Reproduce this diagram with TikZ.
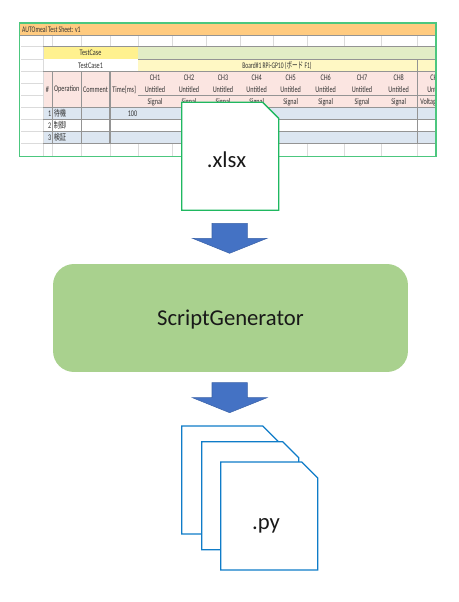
\documentclass[tikz,border=0pt]{standalone}
\usepackage{fontspec}
\setmainfont{Carlito}
\newfontfamily\cjkfont{Noto Sans CJK JP}
\usetikzlibrary{positioning}

\definecolor{sheetorange}{HTML}{FFCB80}
\definecolor{sheetyellow}{HTML}{FFF18F}
\definecolor{sheetpale}{HTML}{FFF8C4}
\definecolor{sheetgreen}{HTML}{E2EDC6}
\definecolor{sheetpink}{HTML}{FBE5E1}
\definecolor{sheetblue}{HTML}{DCE6F1}
\definecolor{sheetframe}{HTML}{4CC77F}
\definecolor{xlsxgreen}{HTML}{1FB860}
\definecolor{genfill}{HTML}{A9D18E}
\definecolor{pyblue}{HTML}{0F7CC8}
\definecolor{arrowfill}{HTML}{4472C4}
\definecolor{arrowedge}{HTML}{3A62A8}

\tikzset{
  gridlight/.style={draw=black!14, line width=0.5pt},
  griddark/.style={draw=black!42, line width=0.6pt},
  sheettext/.style={font=\fontsize{4.9}{5}\selectfont, text=black!80, inner sep=0pt, transform shape, xscale=0.72},
  filesheet/.style={draw, fill=white, line width=0.75pt, line join=miter},
  filelabel/.style={font=\fontsize{12.9}{15}\selectfont, text=black!90, inner sep=0pt, anchor=base},
  blockarrow/.style={fill=arrowfill, draw=arrowedge, line width=0.3pt},
  genbox/.style={fill=genfill, rounded corners=0.42cm, minimum width=7.1cm, minimum height=2.16cm, font=\fontsize{12.9}{15}\selectfont, text=black!90}
}

\newcommand{\filepath}[2]{(#1,#2) -- ++(81,0) -- ++(16,16) -- ++(0,92) -- ++(-97,0) -- cycle}

\begin{document}
\begin{tikzpicture}[x=0.02cm, y=-0.02cm]
    \useasboundingbox (0,0) rectangle (458,602);

    % --- Sheet bands ---
    \fill[sheetorange] (20,24) rectangle (436,35.7);
    \fill[sheetyellow] (43.3,46.7) rectangle (138.3,59.3);
    \fill[sheetgreen] (138.3,46.7) rectangle (436,59.3);
    \fill[sheetpale] (138.3,59.3) rectangle (436,71.7);
    \fill[sheetpink] (43.3,71.7) rectangle (436,107.7);
    \fill[sheetblue] (43.3,107.7) rectangle (436,119.3);
    \fill[sheetblue] (43.3,131.7) rectangle (436,143.3);

    % Light grid
    \foreach \x in {43.3,52.3,81.3,110,138.3,172.7,206.3,240,273.3,307.3,344.3,381.3,417.3} {
      \draw[gridlight] (\x,35.7) -- (\x,46.7);
      \draw[gridlight] (\x,143.3) -- (\x,156);
    }
    \foreach \y in {46.7,59.3,71.7,83.7,95.7,107.7,119.3,131.7,143.3} {
      \draw[gridlight] (21,\y) -- (43.3,\y);
    }
    \draw[gridlight] (43.3,46.7) -- (43.3,143.3);

    % Dark grid
    \draw[griddark] (20,35.7) -- (436,35.7);
    \foreach \y in {46.7,71.7,107.7,119.3,131.7,143.3} {
      \draw[griddark] (43.3,\y) -- (436,\y);
    }
    \draw[griddark] (138.3,59.3) -- (436,59.3);
    \draw[griddark] (138.3,95.7) -- (436,95.7);
    \foreach \x in {52.3,81.3,110} {
      \draw[griddark] (\x,71.7) -- (\x,143.3);
    }
    \draw[griddark] (417.3,59.3) -- (417.3,143.3);

    % --- Sheet texts ---
    \node[sheettext, anchor=west, xscale=0.92] (title) at (22,30) {AUTOmeal Test Sheet: v1};
    \node[sheettext] (testcase) at (90.5,53) {TestCase};
    \node[sheettext] (testcaseone) at (90.5,65.5) {TestCase1};
    \node[sheettext, xscale=0.9] (board) at (277,65.5) {Board\#1 RPi-GP10 ({\cjkfont ボード} F1)};
    \node[sheettext] (hash) at (47.5,89.7) {\#};
    \node[sheettext] (operation) at (66.8,89.7) {Operation};
    \node[sheettext] (comment) at (95.5,89.7) {Comment};
    \node[sheettext] (time) at (124.2,89.7) {Time[ms]};

    % CH columns
    \foreach \n/\x in {1/155,2/189,3/223,4/256.7,5/290.7,6/325.7,7/362,8/398.7} {
      \node[sheettext] (ch\n) at (\x,78) {CH\n};
      \node[sheettext] (untitled\n) at (\x,90) {Untitled};
      \node[sheettext] (signal\n) at (\x,102) {Signal};
    }
    \begin{scope}
      \clip (417.5,72) rectangle (436,107);
      \node[sheettext, anchor=west] (chnine) at (430,78) {CH9};
      \node[sheettext, anchor=west] (untitlednine) at (427,90) {Untitled};
      \node[sheettext, anchor=west] (voltage) at (420,102) {Voltage};
    \end{scope}

    % Row numbers
    \foreach \n/\y/\t in {1/113.5/待機,2/125.5/制御,3/137.5/検証} {
      \node[sheettext, anchor=east] (num\n) at (51.5,\y) {\n};
      \node[sheettext, anchor=west] (op\n) at (53.5,\y) {\cjkfont\t};
    }
    \node[sheettext, anchor=east] (hundred) at (137.5,113.5) {100};

    % Sheet frame
    \draw[sheetframe, line width=0.8pt] (19.5,23) rectangle (436,156.7);

    % --- Input file ---
    \draw[filesheet, draw=xlsxgreen] \filepath{181.7}{102.3};
    \node[filelabel] (xlsx) at (226.5,167.7) {.xlsx};

    % --- Block arrows ---
    \foreach \y in {223.3,382.7} {
      \filldraw[blockarrow] (212,\y) -- (247.3,\y) -- (247.3,\y+15) -- (267,\y+15)
        -- (229.6,\y+30) -- (192.5,\y+15) -- (212,\y+15) -- cycle;
    }

    % --- Generator ---
    \node[genbox] (generator) at (230.5,318) {\smash{\raisebox{-4.5pt}{ScriptGenerator}}};

    % --- Output files ---
    \draw[filesheet, draw=pyblue] \filepath{181.7}{426};
    \draw[filesheet, draw=pyblue] \filepath{201.7}{441.7};
    \draw[filesheet, draw=pyblue] \filepath{220.7}{462};
    \node[filelabel] (py) at (266,529.3) {.py};
\end{tikzpicture}
\end{document}
